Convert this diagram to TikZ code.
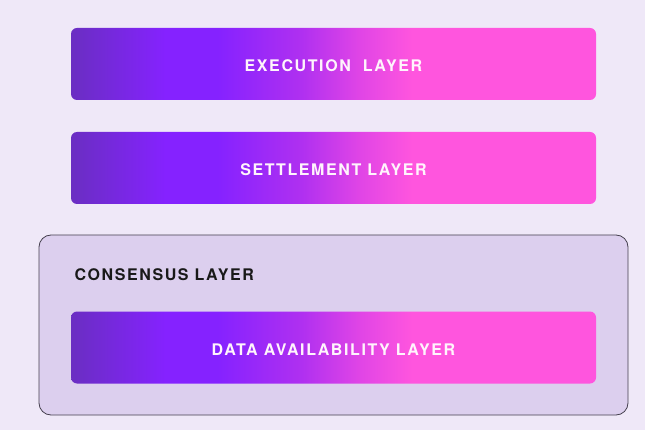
\documentclass[tikz,border=0pt]{standalone}
\usepackage{fontspec}
\usepackage{tikz}
\usetikzlibrary{positioning}
\newfontfamily\layerfont[LetterSpace=10]{TeX Gyre Heros}
\newfontfamily\labelfont[LetterSpace=10]{TeX Gyre Heros}

\definecolor{pagebg}{HTML}{EFE8F8}
\definecolor{boxbg}{HTML}{DCCFEE}
\definecolor{boxline}{HTML}{45404F}
\definecolor{gradA}{HTML}{6A2EC2}
\definecolor{gradB}{HTML}{8522FF}
\definecolor{gradC}{HTML}{B030F0}
\definecolor{gradD}{HTML}{E045E6}
\definecolor{gradE}{HTML}{FF55DE}
\definecolor{textlight}{HTML}{FFF4FC}

% left to right: bounding box maps to 25bp..75bp
\pgfdeclarehorizontalshading{layergrad}{100bp}{
  color(0bp)=(gradA); color(25bp)=(gradA); color(34bp)=(gradB);
  color(39bp)=(gradB); color(47bp)=(gradC); color(52.5bp)=(gradD);
  color(57.5bp)=(gradE); color(75bp)=(gradE); color(100bp)=(gradE)}

\begin{document}
\begin{tikzpicture}[
        x=1pt, y=-1pt,
        layer/.style={rectangle, rounded corners=6pt, minimum width=525pt, minimum height=72pt,
            shading=layergrad, text=textlight, text height=16pt, text depth=0pt,
            font=\layerfont\bfseries\fontsize{16}{19}\selectfont},
        group/.style={rectangle, rounded corners=12pt, minimum width=589pt, minimum height=180pt,
            draw=boxline, line width=0.8pt, fill=boxbg},
        grouplabel/.style={anchor=west, text=black!90, font=\labelfont\bfseries\fontsize{16}{19}\selectfont}
    ]
        \fill[pagebg] (0,0) rectangle (645,430);
        \useasboundingbox (0,0) rectangle (645,430);

        \node[layer] (exec) at (333.5,64) {EXECUTION\ \ LAYER};
        \node[layer] (settle) at (333.5,168) {SETTLEMENT LAYER};

        % consensus box holds the data availability layer
        \node[group] (consensus) at (333.5,325) {};
        \node[grouplabel] (conslabel) at (71,275) {CONSENSUS LAYER};
        \node[layer] (da) at (333.5,347.5) {DATA AVAILABILITY LAYER};
    \end{tikzpicture}
\end{document}
